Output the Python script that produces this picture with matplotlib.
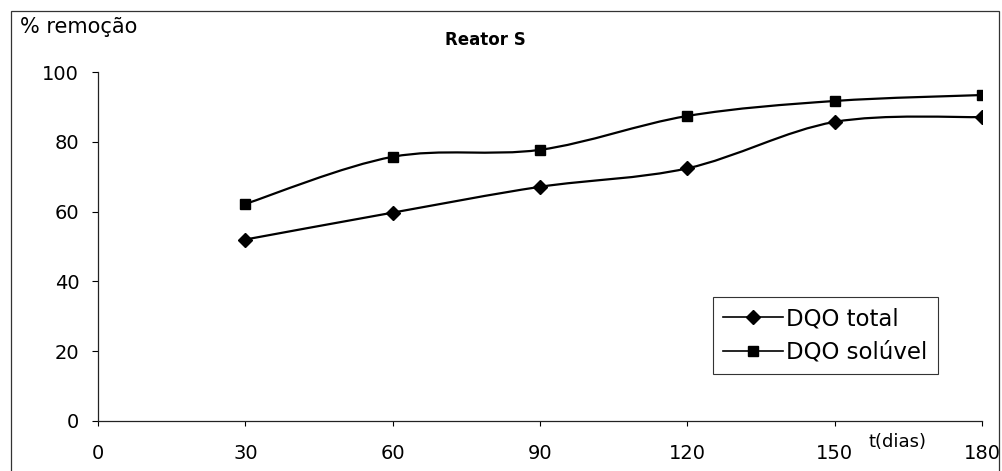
import matplotlib
matplotlib.use("Agg")
import matplotlib.pyplot as plt
from matplotlib.path import Path
from matplotlib.patches import PathPatch, Rectangle
from matplotlib.lines import Line2D

plt.rcParams['font.family'] = ['DejaVu Sans']

dias = [30, 60, 90, 120, 150, 180]
dqo_total = [52.0, 59.7, 67.1, 72.4, 85.7, 87.1]
dqo_soluvel = [62.2, 75.7, 77.7, 87.4, 91.7, 93.4]

x_ticks = [0, 30, 60, 90, 120, 150, 180]
y_ticks = [0, 20, 40, 60, 80, 100]


def smooth_path(xs, ys):
	# bezier segments through every point, like a spreadsheet "smoothed line"
	pts = list(zip(xs, ys))
	verts = [pts[0]]
	codes = [Path.MOVETO]
	n = len(pts)
	for i in range(n - 1):
		p0 = pts[max(i - 1, 0)]
		p1 = pts[i]
		p2 = pts[i + 1]
		p3 = pts[min(i + 2, n - 1)]
		c1 = (p1[0] + (p2[0] - p0[0]) / 6, p1[1] + (p2[1] - p0[1]) / 6)
		c2 = (p2[0] - (p3[0] - p1[0]) / 6, p2[1] - (p3[1] - p1[1]) / 6)
		verts += [c1, c2, p2]
		codes += [Path.CURVE4] * 3
	return Path(verts, codes)


fig = plt.figure(figsize=(10.03, 4.71), dpi=100)
ax = fig.add_axes([98 / 1003, 50 / 471, 884 / 1003, 349 / 471])

for ys, mk, ms in [(dqo_total, 'D', 7), (dqo_soluvel, 's', 6.5)]:
	ax.add_patch(PathPatch(smooth_path(dias, ys), fill=False, edgecolor='black', lw=1.6, zorder=2))
	ax.plot(dias, ys, linestyle='none', marker=mk, markersize=ms, color='black', zorder=3)

ax.set_xlim(0, 180)
ax.set_ylim(0, 100)
ax.set_xticks(x_ticks)
ax.set_yticks(y_ticks)
ax.spines['top'].set_visible(False)
ax.spines['right'].set_visible(False)
for s in ['left', 'bottom']:
	ax.spines[s].set_linewidth(0.9)
	ax.spines[s].set_color('#222222')
ax.tick_params(axis='x', direction='out', length=3.5, width=0.8, pad=13, labelsize=14)
ax.tick_params(axis='y', direction='out', length=4.5, width=0.8, pad=9, labelsize=14)

handles = [
	Line2D([], [], color='black', lw=1.2, marker='D', markersize=7.5),
	Line2D([], [], color='black', lw=1.2, marker='s', markersize=6.5),
]
leg = ax.legend(handles, ['DQO total', 'DQO solúvel'], loc='upper left',
	bbox_to_anchor=(713 / 1003, 1 - 297 / 471), bbox_transform=fig.transFigure,
	borderaxespad=0, fancybox=False, framealpha=1, edgecolor='#333333',
	fontsize=16.5, handlelength=2.6, handletextpad=0.15, labelspacing=0.45,
	borderpad=0.45)
leg.get_frame().set_linewidth(0.8)

fig.text(20 / 1003, 1 - 27 / 471, '% remoção', fontsize=15, va='center', ha='left')
fig.text(485 / 1003, 1 - 40 / 471, 'Reator S', fontsize=12, fontweight='bold', va='center', ha='center')
fig.text(898 / 1003, 1 - 442 / 471, 't(dias)', fontsize=13, va='center', ha='center')

# outer frame around the whole chart
fig.patches.append(Rectangle((11 / 1003, -0.02), 988 / 1003, 1.02 - 11 / 471,
	transform=fig.transFigure, fill=False, edgecolor='#333333', lw=0.9))

fig.savefig('out.png', dpi=100)
